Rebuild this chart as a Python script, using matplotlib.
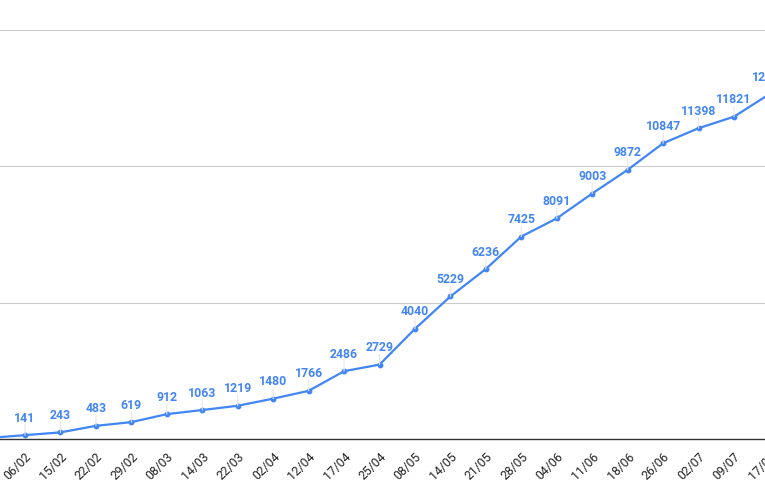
import matplotlib.pyplot as plt

plt.rcParams['font.family'] = ['Roboto', 'DejaVu Sans']

# dates (first one sits just off the left edge of the crop)
dates = ["30/01", "06/02", "15/02", "22/02", "29/02", "08/03", "14/03", "22/03",
         "02/04", "12/04", "17/04", "25/04", "08/05", "14/05", "21/05", "28/05",
         "04/06", "11/06", "18/06", "26/06", "02/07", "09/07", "17/07"]
cases = [40, 141, 243, 483, 619, 912, 1063, 1219, 1480, 1766, 2486, 2729,
         4040, 5229, 6236, 7425, 8091, 9003, 9872, 10847, 11398, 11821, 12650]
y_grid = [5000, 10000, 15000]

blue = "#4285F4"

fig = plt.figure(figsize=(7.65, 5.0), dpi=100)
# the chart is a crop: plot area runs past both figure edges
ax = fig.add_axes([-0.0368, 0.122, 1.0658, 0.818])

x = list(range(len(dates)))
ax.plot(x, cases, color=blue, lw=1.6, marker="o", ms=3.2, zorder=3)

for xi, v in zip(x, cases):
    ax.annotate("", xy=(xi, v), xytext=(0, 7.5), textcoords="offset points",
                arrowprops=dict(arrowstyle="-", color="#e6e6e6", lw=0.8,
                                shrinkA=0, shrinkB=0), annotation_clip=False)
    ax.annotate(str(v), xy=(xi, v), xytext=(0, 7.5), textcoords="offset points",
                ha="center", va="bottom", color=blue, fontsize=8.8,
                fontweight="bold", annotation_clip=False)

ax.set_yticks(y_grid)
ax.set_yticklabels([])
ax.tick_params(axis="y", length=0)
ax.grid(axis="y", color="#cccccc", lw=0.8)
ax.set_axisbelow(True)

ax.set_xticks(x)
ax.set_xticklabels(dates, rotation=45, ha="right", rotation_mode="anchor",
                   fontsize=8.8, color="#222222")
ax.tick_params(axis="x", length=0, pad=8)

ax.set_xlim(-0.5, 22.5)
ax.set_ylim(0, 15000)

for s in ["top", "left", "right"]:
    ax.spines[s].set_visible(False)
ax.spines["bottom"].set_color("#333333")
ax.spines["bottom"].set_linewidth(1.0)

fig.savefig("out.png", dpi=100)
